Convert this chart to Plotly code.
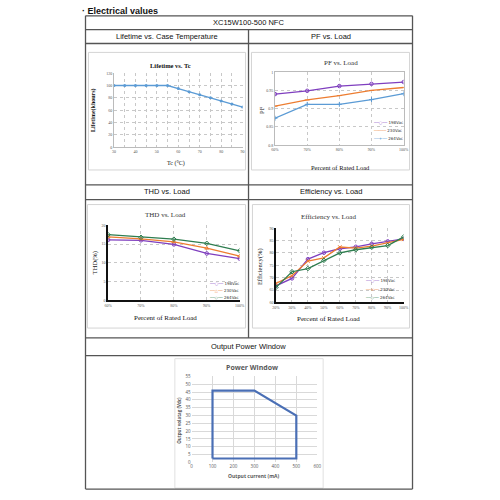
import plotly.graph_objects as go

# ---------------- data ----------------
tc = [30, 35, 40, 45, 50, 55, 60, 65, 70, 75, 80, 85, 90]
lifetime = [100, 100, 100, 100, 100, 100, 95, 90, 85, 80, 75, 70, 65]

pf_load = [60, 70, 80, 90, 100]
pf_198 = [0.940, 0.949, 0.962, 0.968, 0.973]
pf_230 = [0.907, 0.924, 0.936, 0.950, 0.958]
pf_264 = [0.874, 0.912, 0.912, 0.925, 0.941]

thd_load = [60, 70, 80, 90, 100]
thd_198 = [16.1, 16.0, 14.9, 12.5, 11.1]
thd_230 = [16.9, 16.4, 15.6, 13.9, 11.8]
thd_264 = [17.5, 16.8, 16.3, 15.2, 13.2]

eff_load = [20, 30, 40, 50, 60, 70, 80, 90, 100]
eff_198 = [66.7, 69.7, 77.5, 80.1, 81.7, 82.5, 83.7, 84.7, 85.7]
eff_230 = [67.7, 70.8, 76.7, 78.0, 82.4, 82.0, 82.8, 84.0, 85.5]
eff_264 = [66.1, 72.4, 73.7, 77.0, 80.0, 81.3, 82.3, 83.0, 86.5]

pw_current = [100, 100, 300, 500, 500, 100]
pw_voltage = [2.5, 46, 46, 30, 2.5, 2.5]

series_names = ["198Vac", "230Vac", "264Vac"]

# ---------------- helpers ----------------
W = H = 500
def px(x):
    return x / W
def py(y):
    return 1 - y / H
def dx(a, b):
    return [px(a), px(b)]
def dy(top, bottom):
    return [py(bottom), py(top)]

SERIF = "Liberation Serif, Times New Roman, serif"
SANS = "Liberation Sans, Arial, sans-serif"
CAL = "Open Sans, Liberation Sans, sans-serif"

PURPLE = "#7F3FBF"
ORANGE = "#ED7D31"
BLUE = "#5B9BD5"
GREEN = "#2E7D4F"
LINEBLUE = "#4A6FB5"

fig = go.Figure()

# Lifetime
fig.add_trace(go.Scatter(x=tc, y=lifetime, mode="lines+markers", xaxis="x", yaxis="y",
                         line=dict(color=BLUE, width=1.4), marker=dict(size=3, color=BLUE),
                         showlegend=False))
# PF
for name, vals, col, sym in zip(series_names, [pf_198, pf_230, pf_264],
                                [PURPLE, ORANGE, BLUE],
                                ["circle-open", "line-ew", "cross-thin"]):
    fig.add_trace(go.Scatter(x=pf_load, y=vals, mode="lines+markers", xaxis="x2", yaxis="y2",
                             name=name, line=dict(color=col, width=1.3),
                             marker=dict(size=3.5, symbol=sym, color=col, line=dict(width=1, color=col)),
                             showlegend=False))
# THD
for name, vals, col, sym in zip(series_names, [thd_198, thd_230, thd_264],
                                [PURPLE, ORANGE, GREEN],
                                ["circle-open", "triangle-up-open", "diamond-open"]):
    fig.add_trace(go.Scatter(x=thd_load, y=vals, mode="lines+markers", xaxis="x3", yaxis="y3",
                             name=name, line=dict(color=col, width=1.3),
                             marker=dict(size=3.5, symbol=sym, color=col, line=dict(width=1, color=col)),
                             showlegend=False))
# Efficiency
for name, vals, col, sym in zip(series_names, [eff_198, eff_230, eff_264],
                                [PURPLE, ORANGE, GREEN],
                                ["circle-open", "x-thin-open", "diamond-open"]):
    fig.add_trace(go.Scatter(x=eff_load, y=vals, mode="lines+markers", xaxis="x4", yaxis="y4",
                             name=name, line=dict(color=col, width=1.3),
                             marker=dict(size=3.5, symbol=sym, color=col, line=dict(width=1, color=col)),
                             showlegend=False))
# Power window
fig.add_trace(go.Scatter(x=pw_current, y=pw_voltage, mode="lines", xaxis="x5", yaxis="y5",
                         line=dict(color=LINEBLUE, width=2.2), showlegend=False))

tickf = dict(family=SERIF, size=4, color="#555")
dotgrid = dict(showgrid=True, gridcolor="#c8c8c8", griddash="dot", gridwidth=0.8, zeroline=False,
               ticks="", tickfont=tickf)

fig.update_layout(
    width=500, height=500, margin=dict(l=0, r=0, t=0, b=0),
    paper_bgcolor="white", plot_bgcolor="white", showlegend=False,
    xaxis=dict(domain=dx(112, 243), range=[30, 90], tickvals=[30, 40, 50, 60, 70, 80, 90],
               minor=dict(dtick=5, showgrid=True, gridcolor="#c8c8c8", griddash="dot"),
               showline=True, linecolor="#bbb", anchor="y", **dotgrid),
    yaxis=dict(domain=dy(71, 146), range=[0, 120], dtick=20, showline=True, linecolor="#bbb",
               anchor="x", **dotgrid),
    xaxis2=dict(domain=dx(276, 407), range=[60, 100], tickvals=pf_load,
                ticktext=[f"{v}%" for v in pf_load], showline=True, linecolor="#bbb",
                mirror=True, anchor="y2", **dotgrid),
    yaxis2=dict(domain=dy(70, 144), range=[0.8, 1.0], tickvals=[0.8, 0.85, 0.9, 0.95, 1.0],
                ticktext=["0.8", "0.85", "0.9", "0.95", "1"], showline=True, linecolor="#bbb",
                mirror=True, anchor="x2", **dotgrid),
    xaxis3=dict(domain=dx(106, 240), range=[60, 100], tickvals=thd_load,
                ticktext=[f"{v}%" for v in thd_load], showline=True, linecolor="#111", linewidth=1.5,
                anchor="y3", **dotgrid),
    yaxis3=dict(domain=dy(225, 301), range=[0, 20], dtick=5, showline=True, linecolor="#111",
                linewidth=1.5, anchor="x3", **dotgrid),
    xaxis4=dict(domain=dx(277, 407), range=[20, 100], tickvals=eff_load,
                ticktext=[f"{v}%" for v in eff_load], showline=True, linecolor="#111", linewidth=1.5,
                anchor="y4", **dotgrid),
    yaxis4=dict(domain=dy(228, 303), range=[60, 90], dtick=5, showline=True, linecolor="#111",
                linewidth=1.5, anchor="x4", **dotgrid),
    xaxis5=dict(domain=dx(191, 319), range=[0, 600], dtick=100, showgrid=True, gridcolor="#d9d9d9",
                gridwidth=0.8, zeroline=False, showline=False, ticks="", anchor="y5",
                tickfont=dict(family=CAL, size=4.5, color="#595959")),
    yaxis5=dict(domain=dy(378, 465), range=[0, 55], dtick=5, showgrid=True, gridcolor="#d9d9d9",
                gridwidth=0.8, zeroline=False, showline=False, ticks="", anchor="x5",
                tickfont=dict(family=CAL, size=4.5, color="#595959")),
)

shapes = []
def line(x0, y0, x1, y1, color="#555", width=1.3):
    shapes.append(dict(type="line", xref="paper", yref="paper", x0=px(x0), y0=py(y0),
                       x1=px(x1), y1=py(y1), line=dict(color=color, width=width)))
def box(x0, y0, x1, y1, color="#d4d4d4"):
    shapes.append(dict(type="rect", xref="paper", yref="paper", x0=px(x0), y0=py(y1),
                       x1=px(x1), y1=py(y0), line=dict(color=color, width=1), layer="below"))

# table frame
line(83, 13, 83, 492); line(416, 13, 416, 492)
line(83, 13, 416, 13); line(83, 492, 416, 492)
for yy in [27, 41, 184, 199, 339, 357]:
    line(83, yy, 416, yy)
line(249, 27, 249, 339)
# chart boxes
box(86, 50, 246, 169); box(252, 50, 413, 169)
box(85, 204, 246, 329); box(253, 204, 413, 329)
box(174, 360, 325, 491, color="#e0e0e0")
fig.update_layout(shapes=shapes)

ann = []
def text(x, y, s, size=8, family=SANS, color="#111", bold=False, anchor="center", angle=0):
    if bold:
        s = f"<b>{s}</b>"
    ann.append(dict(x=px(x), y=py(y), xref="paper", yref="paper", text=s, showarrow=False,
                    xanchor=anchor, yanchor="middle", textangle=angle,
                    font=dict(size=size, family=family, color=color)))

text(77, 8, "· Electrical values", size=9, bold=True, anchor="left")
text(249, 20, "XC15W100-500 NFC", size=7.5)
text(166, 34, "Lifetime vs. Case Temperature", size=7.5)
text(333, 34, "PF vs. Load", size=7.5)
text(166, 191, "THD vs. Load", size=7.5)
text(333, 191, "Efficiency vs. Load", size=7.5)
text(249, 348, "Output Power Window", size=7.5)

# chart 1
text(170, 63, "Lifetime vs. Tc", size=6.5, family=SERIF, bold=True)
text(91, 108, "Lifetime(khours)", size=6, family=SERIF, bold=True, angle=-90)
text(175, 162, "Tc (°C)", size=6, family=SERIF)
# chart 2
text(343, 61, "PF vs. Load", size=7, family=SERIF, color="#333")
text(262, 108, "PF", size=6.5, family=SERIF, angle=-90)
text(343, 166, "Percent of Rated Load", size=6.5, family=SERIF)
# chart 3
text(164, 215, "THD vs. Load", size=7, family=SERIF, color="#333")
text(92, 263, "THD(%)", size=6.5, family=SERIF, angle=-90)
text(164, 319, "Percent of Rated Load", size=7, family=SERIF)
# chart 4
text(330, 217, "Efficiency vs. Load", size=7, family=SERIF, color="#333")
text(260, 267, "Efficiency(%)", size=6.5, family=SERIF, angle=-90)
text(330, 320, "Percent of Rated Load", size=7, family=SERIF)
# chart 5
text(253, 369, "Power Window", size=7, family=CAL, color="#595959", bold=True)
text(178, 422, "Output volatag (Vdc)", size=4.5, family=CAL, color="#595959", bold=True, angle=-90)
text(255, 479, "Output current (mA)", size=5, family=CAL, color="#595959", bold=True)

# legends
def legend(x, ys, cols, syms):
    for yy, name, c, sm in zip(ys, series_names, cols, syms):
        s = f"<span style='color:{c}'>──{sm}──</span> {name}"
        text(x, yy, s, size=4, family="DejaVu Sans, sans-serif", color="#333", anchor="left")

legend(374, [121, 129, 137], [PURPLE, ORANGE, BLUE], ["○", "─", "+"])
legend(207, [284, 291, 298], [PURPLE, ORANGE, GREEN], ["○", "△", "◇"])
legend(366, [281, 290, 298], [PURPLE, ORANGE, GREEN], ["○", "×", "◇"])

fig.update_layout(annotations=ann)
fig.write_html("out.html", config={"displayModeBar": False},
               post_script="document.body.style.margin='0';document.body.style.overflow='hidden';")
